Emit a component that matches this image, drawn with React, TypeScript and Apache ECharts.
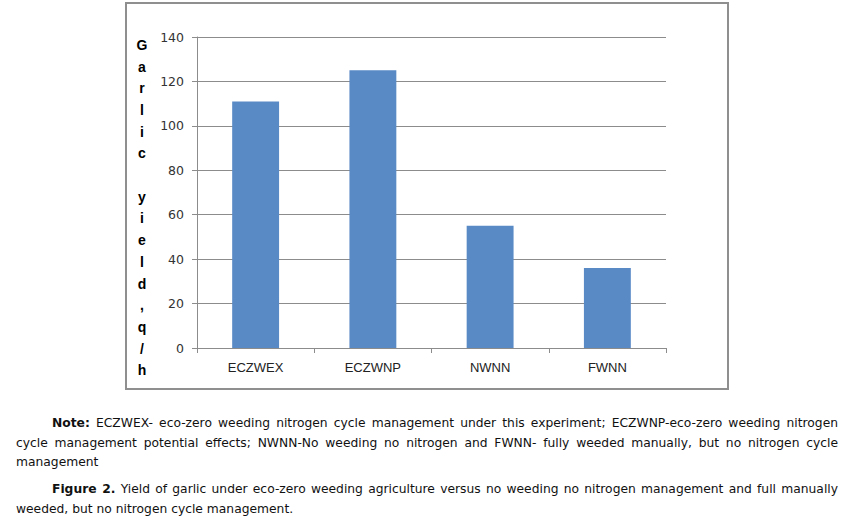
import React, { useEffect, useRef } from "react";
import * as echarts from "echarts";

const categories = ["ECZWEX", "ECZWNP", "NWNN", "FWNN"];
const yieldValues = [111, 125, 55, 36];
const yTicks = { min: 0, max: 140, interval: 20 };
const axisTitle = "Garlic yield,q/ha";

const noteLines = [
  { bold: "Note:", text: " ECZWEX- eco-zero weeding nitrogen cycle management under this experiment; ECZWNP-eco-zero weeding nitrogen", justify: true, indent: true },
  { bold: "", text: "cycle management potential effects; NWNN-No weeding no nitrogen and FWNN- fully weeded manually, but no nitrogen cycle", justify: true, indent: false },
  { bold: "", text: "management", justify: false, indent: false },
];
const figureLines = [
  { bold: "Figure 2.", text: " Yield of garlic under eco-zero weeding agriculture versus no weeding no nitrogen management and full manually", justify: true, indent: true },
  { bold: "", text: "weeded, but no nitrogen cycle management.", justify: false, indent: false },
];

type Line = { bold: string; text: string; justify: boolean; indent: boolean };

function Para({ lines, marginTop }: { lines: Line[]; marginTop: number }) {
  return (
    <div style={{ marginTop }}>
      {lines.map((l, i) => (
        <div
          key={i}
          style={{
            height: 19.5,
            lineHeight: "19.5px",
            whiteSpace: "nowrap",
            textAlign: l.justify ? "justify" : "left",
            textAlignLast: l.justify ? "justify" : "left",
            paddingLeft: l.indent ? 36 : 0,
            fontFamily: "'DejaVu Sans', Verdana, sans-serif",
            fontSize: 12.3,
            color: "#111",
          }}
        >
          {l.bold ? <b>{l.bold}</b> : null}
          <span>{l.text}</span>
        </div>
      ))}
    </div>
  );
}

export default function App() {
  const ref = useRef<HTMLDivElement>(null);
  useEffect(() => {
    if (!ref.current) return;
    const chart = echarts.init(ref.current, null, { renderer: "svg" });
    const gray = "#8c8c8c";
    chart.setOption({
      animation: false,
      backgroundColor: "#ffffff",
      grid: { left: 197, top: 37, width: 469, height: 311, containLabel: false },
      xAxis: {
        type: "category",
        data: categories,
        boundaryGap: true,
        axisLine: { show: true, lineStyle: { color: gray, width: 1 } },
        axisTick: { show: true, length: 5, lineStyle: { color: gray } },
        axisLabel: {
          margin: 13,
          fontFamily: "Liberation Sans, Arial, sans-serif",
          fontSize: 13,
          color: "#222",
        },
        splitLine: { show: false },
      },
      yAxis: {
        type: "value",
        min: yTicks.min,
        max: yTicks.max,
        interval: yTicks.interval,
        axisLine: { show: true, lineStyle: { color: gray, width: 1 } },
        axisTick: { show: true, length: 5, lineStyle: { color: gray } },
        axisLabel: {
          margin: 13,
          fontFamily: "DejaVu Sans, sans-serif",
          fontSize: 12.5,
          color: "#333",
        },
        splitLine: { show: true, lineStyle: { color: gray, width: 1 } },
      },
      series: [
        {
          type: "bar",
          data: yieldValues,
          barWidth: "40%",
          itemStyle: { color: "#5a8ac6" },
        },
      ],
      graphic: [
        {
          type: "text",
          z: 10,
          x: 142,
          y: 34,
          style: {
            text: axisTitle.split("").join("\n"),
            fontFamily: "Liberation Sans, Arial, sans-serif",
            fontWeight: "bold",
            fontSize: 14,
            lineHeight: 21.7,
            align: "center",
            verticalAlign: "top",
            fill: "#000",
          },
        },
        {
          type: "rect",
          z: 20,
          shape: { x: 100, y: 390, width: 700, height: 22 },
          style: { fill: "#ffffff" },
        },
        {
          type: "rect",
          z: 30,
          shape: { x: 126, y: 3, width: 602, height: 386 },
          style: { fill: "none", stroke: "#8f8f8f", lineWidth: 2 },
        },
      ],
    });
    return () => chart.dispose();
  }, []);

  return (
    <div style={{ position: "absolute", left: 0, top: 0, width: 862, height: 522, background: "#fff" }}>
      <div ref={ref} style={{ position: "absolute", left: 0, top: 0, width: 862, height: 522 }} />
      <div style={{ position: "absolute", left: 16, top: 414, width: 822 }}>
        <Para lines={noteLines} marginTop={0} />
        <Para lines={figureLines} marginTop={7.5} />
      </div>
    </div>
  );
}
